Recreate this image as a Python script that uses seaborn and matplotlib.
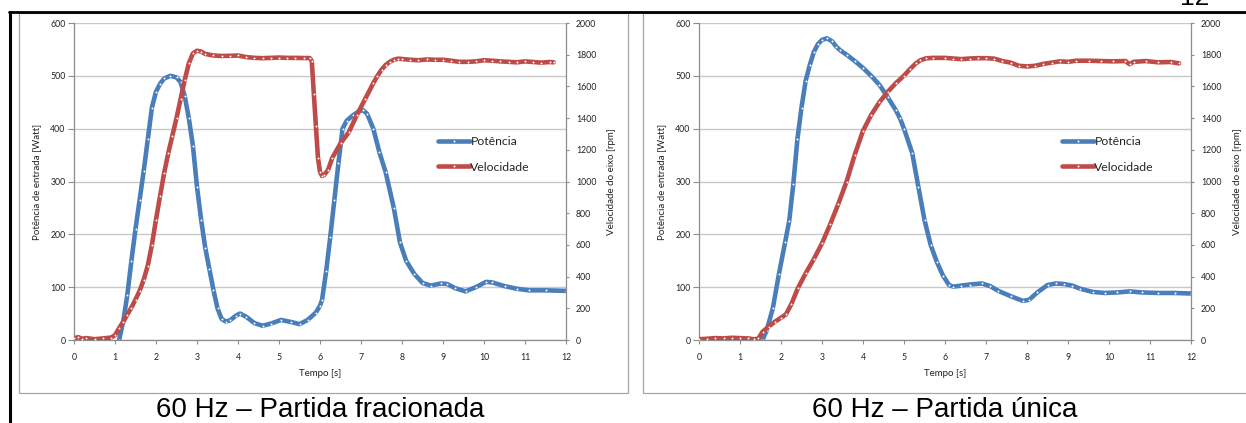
import matplotlib
matplotlib.use("Agg")
import matplotlib.pyplot as plt
import seaborn as sns
from matplotlib.patches import Rectangle
from matplotlib.lines import Line2D

# ---------------- data ----------------
# 60 Hz - Partida fracionada
t_frac_pot = [1.1, 1.2, 1.3, 1.4, 1.5, 1.6, 1.7, 1.8, 1.9, 2.0, 2.1, 2.2, 2.35, 2.5, 2.6,
              2.7, 2.8, 2.9, 3.0, 3.1, 3.2, 3.3, 3.4, 3.5, 3.6, 3.7, 3.8, 3.95, 4.05, 4.2,
              4.4, 4.6, 4.8, 5.05, 5.3, 5.5, 5.7, 5.9, 6.0, 6.05, 6.15, 6.25, 6.35, 6.45,
              6.55, 6.65, 6.8, 6.95, 7.05, 7.15, 7.3, 7.45, 7.6, 7.8, 7.95, 8.1, 8.3, 8.5,
              8.7, 8.95, 9.1, 9.3, 9.55, 9.8, 10.05, 10.2, 10.5, 10.8, 11.1, 11.5, 12.0]
pot_frac = [0, 35, 85, 150, 210, 265, 320, 380, 440, 470, 485, 495, 500, 497, 488,
            462, 420, 368, 290, 228, 175, 135, 95, 60, 40, 35, 37, 46, 50, 44,
            32, 27, 31, 38, 34, 30, 38, 52, 65, 76, 130, 195, 265, 335,
            400, 415, 425, 433, 435, 428, 400, 355, 318, 250, 185, 150, 125, 108,
            103, 107, 106, 98, 92, 100, 110, 109, 102, 97, 94, 94, 93]

t_frac_vel = [0.0, 0.1, 0.2, 0.3, 0.5, 0.7, 0.9, 1.0, 1.1, 1.2, 1.3, 1.4, 1.5, 1.6, 1.7,
              1.8, 1.9, 2.0, 2.1, 2.2, 2.3, 2.4, 2.5, 2.6, 2.7, 2.8, 2.9, 3.0, 3.1, 3.2,
              3.4, 3.6, 3.8, 4.0, 4.2, 4.4, 4.6, 4.8, 5.0, 5.2, 5.4, 5.6, 5.75, 5.8, 5.85,
              5.9, 5.95, 6.0, 6.05, 6.1, 6.2, 6.3, 6.5, 6.7, 6.9, 7.1, 7.3, 7.4, 7.5, 7.6,
              7.7, 7.8, 7.9, 8.0, 8.2, 8.4, 8.6, 8.8, 9.0, 9.2, 9.4, 9.6, 9.8, 10.0, 10.2,
              10.4, 10.6, 10.8, 11.0, 11.2, 11.4, 11.6, 11.7]
vel_frac = [10, 18, 8, 12, 5, 10, 15, 30, 75, 115, 160, 205, 255, 310, 380,
            470, 600, 760, 910, 1055, 1180, 1290, 1400, 1520, 1640, 1745, 1808, 1825, 1820, 1805,
            1795, 1792, 1793, 1795, 1785, 1780, 1778, 1780, 1782, 1780, 1780, 1779, 1779, 1760, 1550,
            1350, 1150, 1060, 1035, 1040, 1075, 1150, 1240, 1310, 1420, 1520, 1620, 1666, 1705, 1735,
            1755, 1768, 1775, 1773, 1768, 1765, 1770, 1768, 1768, 1762, 1755, 1755, 1758, 1765, 1762,
            1758, 1755, 1752, 1758, 1754, 1750, 1754, 1752]

# 60 Hz - Partida unica
t_unica_pot = [1.5, 1.55, 1.65, 1.8, 1.95, 2.1, 2.2, 2.3, 2.4, 2.5, 2.6, 2.7, 2.8, 2.9, 3.0,
               3.12, 3.25, 3.35, 3.45, 3.6, 3.8, 4.0, 4.2, 4.4, 4.6, 4.8, 4.9, 5.0, 5.2, 5.35,
               5.5, 5.65, 5.8, 5.95, 6.1, 6.2, 6.4, 6.6, 6.9, 7.1, 7.3, 7.6, 7.9, 8.05, 8.25,
               8.5, 8.7, 8.9, 9.1, 9.3, 9.6, 9.9, 10.2, 10.5, 10.8, 11.2, 11.6, 12.0]
pot_unica = [0, 0, 18, 60, 125, 185, 225, 295, 380, 440, 490, 520, 545, 560, 568,
             571, 565, 555, 548, 540, 528, 515, 500, 483, 460, 435, 420, 400, 354, 290,
             227, 180, 148, 122, 104, 101, 103, 105, 107, 102, 93, 83, 74, 76, 90,
             104, 107, 106, 103, 97, 91, 89, 90, 92, 90, 89, 89, 88]

t_unica_vel = [0.0, 0.2, 0.4, 0.6, 0.8, 1.0, 1.2, 1.35, 1.45, 1.55, 1.7, 1.85, 2.0, 2.12, 2.25,
               2.41, 2.6, 2.8, 3.0, 3.2, 3.4, 3.6, 3.8, 4.0, 4.2, 4.4, 4.6, 4.8, 5.0, 5.15,
               5.29, 5.4, 5.54, 5.7, 6.0, 6.2, 6.4, 6.6, 6.8, 7.0, 7.2, 7.4, 7.6, 7.8, 8.0,
               8.2, 8.4, 8.6, 8.8, 9.0, 9.2, 9.5, 9.8, 10.1, 10.4, 10.5, 10.6, 10.9, 11.2, 11.5, 11.71]
vel_unica = [5, 8, 12, 10, 14, 12, 10, 4, 10, 52, 85, 115, 140, 162, 225,
             326, 420, 510, 610, 730, 860, 1000, 1170, 1320, 1420, 1500, 1565, 1620, 1668, 1710,
             1745, 1765, 1777, 1780, 1780, 1776, 1772, 1776, 1778, 1778, 1775, 1760, 1750, 1730, 1726,
             1730, 1742, 1750, 1758, 1755, 1762, 1762, 1760, 1758, 1760, 1740, 1755, 1760, 1752, 1754, 1745]

x_ticks = list(range(0, 13))
pot_ticks = [0, 100, 200, 300, 400, 500, 600]
vel_ticks = [0, 200, 400, 600, 800, 1000, 1200, 1400, 1600, 1800, 2000]

captions = ["60 Hz \u2013 Partida fracionada", "60 Hz \u2013 Partida \u00fanica"]
label_x = "Tempo [s]"
label_pot = "Pot\u00eancia de entrada [Watt]"
label_vel = "Velocidade do eixo [rpm]"
series_names = ["Pot\u00eancia", "Velocidade"]

# ---------------- style ----------------
sns.set_theme(style="white")
plt.rcParams['font.family'] = ['Lato', 'DejaVu Sans']

W, H = 1246, 423
BLUE = "#4a7ebb"
RED = "#be4b48"
AXC = "#8c8c8c"

fig = plt.figure(figsize=(W / 100, H / 100), dpi=100)
fig.patch.set_facecolor("white")

def px_ax(left, right, top, bottom):
    return [left / W, 1 - bottom / H, (right - left) / W, (bottom - top) / H]

datasets = [
    (t_frac_pot, pot_frac, t_frac_vel, vel_frac, 74, 566),
    (t_unica_pot, pot_unica, t_unica_vel, vel_unica, 699, 1191),
]

for i, (tp, pv, tv, vv, left, right) in enumerate(datasets):
    ax = fig.add_axes(px_ax(left, right, 23, 340))
    ax2 = ax.twinx()
    ax.set_zorder(1)
    ax2.set_zorder(2)
    ax.patch.set_visible(False)
    ax2.patch.set_visible(False)

    sns.lineplot(x=tp, y=pv, ax=ax, color=BLUE, linewidth=3.3, legend=False,
                 label=series_names[0], marker="o", markersize=1.4,
                 markerfacecolor="white", markeredgewidth=0, errorbar=None,
                 solid_capstyle="round", solid_joinstyle="round")
    sns.lineplot(x=tv, y=vv, ax=ax2, color=RED, linewidth=3.3, legend=False,
                 label=series_names[1], marker="o", markersize=1.4,
                 markerfacecolor="white", markeredgewidth=0, errorbar=None,
                 solid_capstyle="round", solid_joinstyle="round")

    ax.set_xlim(0, 12)
    ax.set_ylim(0, 600)
    ax2.set_ylim(0, 2000)
    ax.set_xticks(x_ticks)
    ax.set_yticks(pot_ticks)
    ax2.set_yticks(vel_ticks)

    ax.grid(axis="y", color="#c8c8c8", linewidth=1.0)
    ax.grid(axis="x", visible=False)
    ax.set_axisbelow(True)

    for s in ["top", "right"]:
        ax.spines[s].set_visible(False)
    for s in ["left", "bottom"]:
        ax.spines[s].set_color(AXC)
        ax.spines[s].set_linewidth(0.9)
    for s in ["top", "left", "bottom"]:
        ax2.spines[s].set_visible(False)
    ax2.spines["right"].set_color(AXC)
    ax2.spines["right"].set_linewidth(0.9)

    ax.tick_params(axis="x", direction="out", length=3, width=0.8, color=AXC,
                   labelsize=6.3, pad=6.5, labelcolor="#222222", bottom=True)
    ax.tick_params(axis="y", direction="out", length=4, width=0.8, color=AXC,
                   labelsize=6.3, pad=2, labelcolor="#222222", left=True)
    ax2.tick_params(axis="y", direction="out", length=2.5, width=0.8, color=AXC,
                    labelsize=6.3, pad=4.5, labelcolor="#222222", right=True)

    ax.set_xlabel(label_x, fontsize=7, color="#222222")
    ax.xaxis.set_label_coords(0.5, (340 - 373) / 317)
    ax.xaxis.label.set_va("center")

    ax.set_ylabel(label_pot, fontsize=7, color="#222222")
    lx = 37 if i == 0 else 662
    ax.yaxis.set_label_coords((lx - left) / 492, 0.5)
    ax.yaxis.label.set_va("center")

    ax2.set_ylabel(label_vel, fontsize=7, color="#222222")
    rx = 612 if i == 0 else 1238
    ax2.yaxis.set_label_coords((rx - left) / 492, 0.5)
    ax2.yaxis.label.set_va("center")

    h1, l1 = ax.get_legend_handles_labels()
    h2, l2 = ax2.get_legend_handles_labels()
    leg_left = 438 if i == 0 else 1062
    ax2.legend(h1 + h2, l1 + l2, loc="upper left",
               bbox_to_anchor=((leg_left - left) / 492, (340 - 136) / 317),
               frameon=False, fontsize=8.8, handlelength=2.6, handletextpad=0.05,
               labelspacing=1.2, borderpad=0, borderaxespad=0, numpoints=1)

    cx = (left + right) / 2
    fig.text(cx / W, 6 / H, captions[i], family="Liberation Sans", fontsize=20,
             ha="center", va="baseline", color="black")

# frames
fig.add_artist(Rectangle((19 / W, 1 - 393 / H), (628 - 19) / W, (393 - 13) / H,
                         transform=fig.transFigure, fill=False, ec="#a6a6a6", lw=0.9))
fig.add_artist(Rectangle((643 / W, 1 - 393 / H), (1260 - 643) / W, (393 - 13) / H,
                         transform=fig.transFigure, fill=False, ec="#a6a6a6", lw=0.9,
                         clip_on=False))
# page lines
fig.add_artist(Line2D([9 / W, 1.0], [1 - 12 / H, 1 - 12 / H], color="black", lw=2.0,
                      transform=fig.transFigure))
fig.add_artist(Line2D([10 / W, 10 / W], [1 - 12 / H, 0.0], color="black", lw=2.2,
                      transform=fig.transFigure))
# page number (partly cut at top, as in the source page)
fig.text(1209 / W, 1 - 5 / H, "12", family="Liberation Sans", fontsize=19,
         ha="right", va="baseline", color="black")

fig.savefig("out.png", dpi=100, facecolor="white")
